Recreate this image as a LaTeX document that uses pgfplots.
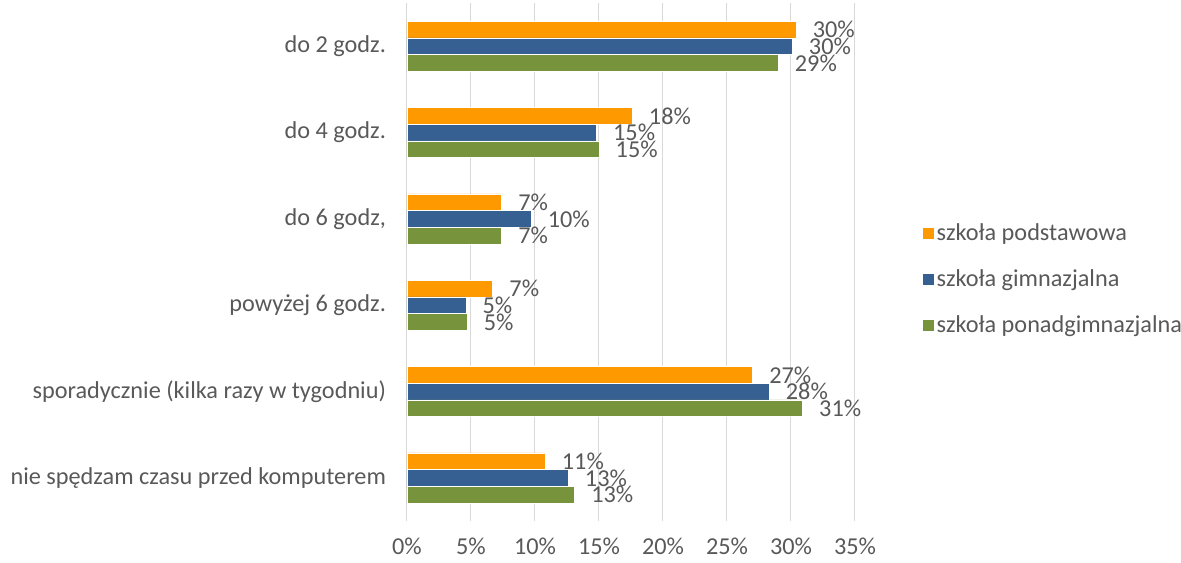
\documentclass[border=0pt]{standalone}
\usepackage{fontspec}
\setmainfont{Carlito}
\usepackage{pgfplots}
\usepackage{pgfplotstable}
\pgfplotsset{compat=1.18}
\definecolor{cOrange}{HTML}{FF9900}
\definecolor{cBlue}{HTML}{376092}
\definecolor{cGreen}{HTML}{77933C}
\definecolor{cText}{HTML}{595959}
\definecolor{cGrid}{HTML}{D9D9D9}
\pgfplotstableread{
y a b c
0 30.4 30.1 29.0
1 17.6 14.8 15.0
2 7.4 9.7 7.4
3 6.7 4.6 4.7
4 27.0 28.3 30.9
5 10.8 12.6 13.1
}\data
\begin{document}
\begin{tikzpicture}
\begin{axis}[
  at={(0,0)}, anchor=south west,
  scale only axis,
  width=336pt, height=388.5pt,
  xbar=0pt, bar width=12.5pt,
  xmin=0, xmax=35, ymin=-0.5, ymax=5.5,
  y dir=reverse,
  xtick={0,5,...,35},
  ytick={0,1,2,3,4,5},
  yticklabels={do 2 godz., do 4 godz., {do 6 godz,}, powyżej 6 godz., sporadycznie (kilka razy w tygodniu), nie spędzam czasu przed komputerem},
  xticklabel={\pgfmathprintnumber{\tick}\%},
  /pgf/number format/assume math mode=true,
  xmajorgrids, major grid style={draw=cGrid, line width=0.75pt},
  axis line style={draw=none}, tick style={draw=none},
  ticklabel style={font=\fontsize{18.2}{21}\selectfont, text=cText},
  xticklabel style={yshift=-9pt},
  yticklabel style={xshift=-8pt},
  nodes near coords={\pgfmathprintnumber[fixed,precision=0]{\pgfplotspointmeta}\%},
  nodes near coords style={font=\fontsize{18.2}{21}\selectfont, text=cText, anchor=west, xshift=9pt},
  point meta=explicit,
  legend style={at={(1.139,0.467)}, anchor=west, draw=none, fill=none,
    font=\fontsize{18.2}{21}\selectfont, text=cText, row sep=16.25pt,
    legend cell align=left},
  legend image code/.code={\fill[#1] (-3pt,-4.5pt) rectangle (6pt,4.5pt);},
]
\addplot[draw=white, line width=0.4pt, fill=cOrange, bar shift=12.5pt] table[x=a, y=y, meta=a] {\data};
\addplot[draw=white, line width=0.4pt, fill=cBlue, bar shift=0pt] table[x=b, y=y, meta=b] {\data};
\addplot[draw=white, line width=0.4pt, fill=cGreen, bar shift=-12.5pt] table[x=c, y=y, meta=c] {\data};
\legend{szkoła podstawowa, szkoła gimnazjalna, szkoła ponadgimnazjalna}
\end{axis}
\pgfresetboundingbox
\path[use as bounding box] (-305.25pt,-30.75pt) rectangle (580.5pt,390.75pt);
\end{tikzpicture}
\end{document}
